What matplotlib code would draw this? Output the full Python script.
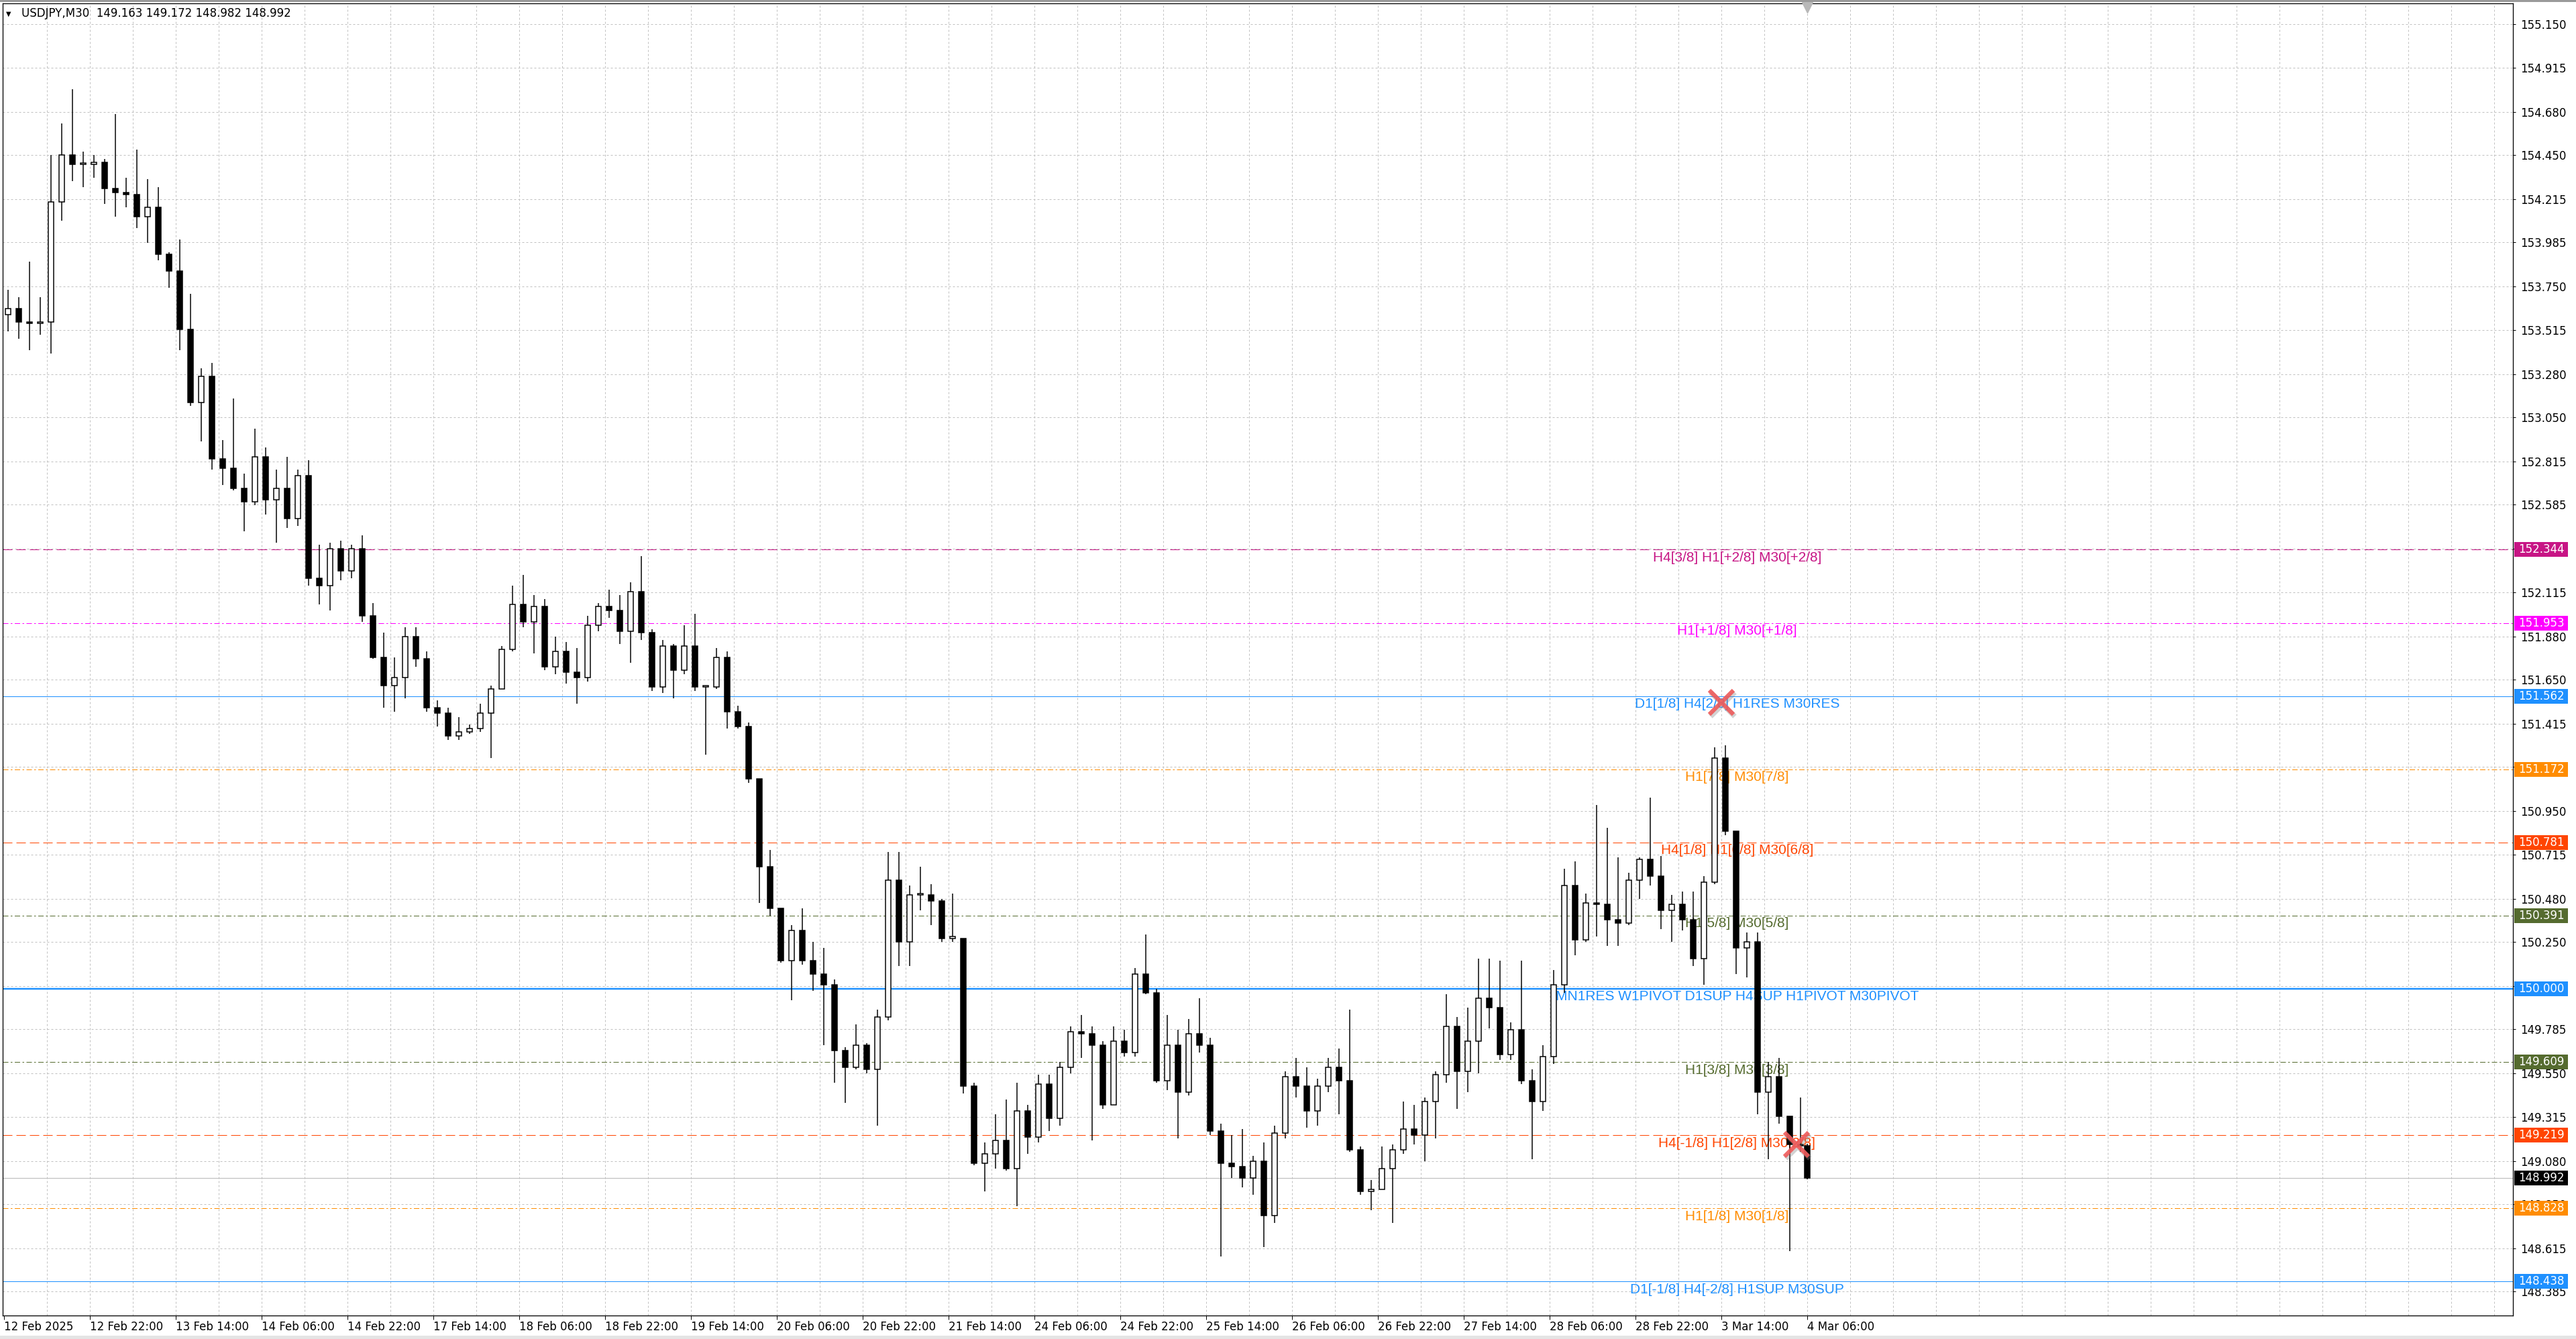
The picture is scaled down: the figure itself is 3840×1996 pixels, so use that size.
import matplotlib
matplotlib.use("Agg")
import matplotlib.pyplot as plt
import matplotlib.transforms as mtransforms
from matplotlib.patches import Rectangle

plt.rcParams["lines.scale_dashes"] = False
plt.rcParams["font.family"] = ["DejaVu Sans"]

W_PX, H_PX, DPI = 3840, 1996, 100
PT = 72.0 / DPI  # one screen pixel in points

SYMBOL = "USDJPY,M30"
FIRST_OPEN = 153.60
LAST_BAR = 672
BARS_PER_CANDLE = 4  # candles below are 2-hour groups of M30 bars

# ==========================
# price data (one row = 10 groups)
# ==========================
closes = [
    153.63, 153.56, 153.55, 153.56, 154.20, 154.45, 154.40, 154.40, 154.41, 154.27,
    154.25, 154.24, 154.12, 154.17, 153.92, 153.83, 153.52, 153.13, 153.27, 152.83,
    152.78, 152.67, 152.60, 152.84, 152.61, 152.67, 152.51, 152.74, 152.19, 152.15,
    152.35, 152.23, 152.35, 151.99, 151.77, 151.62, 151.66, 151.88, 151.76, 151.50,
    151.47, 151.35, 151.37, 151.39, 151.47, 151.60, 151.81, 152.05, 151.96, 152.04,
    151.72, 151.80, 151.69, 151.66, 151.94, 152.04, 152.02, 151.91, 152.12, 151.90,
    151.61, 151.83, 151.70, 151.83, 151.61, 151.61, 151.77, 151.48, 151.40, 151.12,
    150.65, 150.43, 150.15, 150.31, 150.15, 150.08, 150.02, 149.67, 149.58, 149.70,
    149.57, 149.85, 150.58, 150.25, 150.50, 150.50, 150.47, 150.27, 150.27, 149.48,
    149.07, 149.12, 149.19, 149.04, 149.35, 149.21, 149.49, 149.31, 149.58, 149.77,
    149.76, 149.70, 149.38, 149.72, 149.66, 150.08, 149.98, 149.51, 149.70, 149.45,
    149.76, 149.70, 149.24, 149.07, 149.05, 148.99, 149.08, 148.79, 149.23, 149.53,
    149.48, 149.35, 149.48, 149.58, 149.51, 149.14, 148.92, 148.93, 149.04, 149.14,
    149.25, 149.22, 149.40, 149.54, 149.80, 149.56, 149.72, 149.95, 149.90, 149.65,
    149.78, 149.51, 149.40, 149.64, 150.02, 150.55, 150.26, 150.46, 150.45, 150.37,
    150.35, 150.58, 150.69, 150.60, 150.42, 150.45, 150.37, 150.16, 150.57, 151.23,
    150.84, 150.22, 150.25, 149.45, 149.53, 149.32, 149.17, 149.163, 148.992,
]
highs = [
    153.73, 153.69, 153.88, 153.69, 154.45, 154.62, 154.80, 154.47, 154.45, 154.43,
    154.67, 154.33, 154.48, 154.32, 154.28, 153.93, 154.00, 153.71, 153.31, 153.34,
    152.93, 153.15, 152.75, 152.99, 152.89, 152.77, 152.84, 152.77, 152.82, 152.37,
    152.38, 152.39, 152.37, 152.42, 152.06, 151.90, 151.77, 151.93, 151.93, 151.80,
    151.54, 151.50, 151.45, 151.41, 151.52, 151.62, 151.83, 152.15, 152.21, 152.10,
    152.08, 151.88, 151.85, 151.82, 151.99, 152.06, 152.13, 152.10, 152.17, 152.31,
    151.92, 151.86, 151.84, 151.94, 152.00, 151.62, 151.82, 151.80, 151.51, 151.42,
    151.12, 150.74, 150.43, 150.34, 150.43, 150.25, 150.22, 150.05, 149.69, 149.81,
    149.71, 149.89, 150.73, 150.73, 150.55, 150.65, 150.56, 150.48, 150.51, 150.27,
    149.50, 149.18, 149.33, 149.41, 149.50, 149.38, 149.54, 149.54, 149.61, 149.80,
    149.86, 149.80, 149.72, 149.80, 149.78, 150.11, 150.29, 150.00, 149.86, 149.78,
    149.84, 149.95, 149.74, 149.28, 149.22, 149.25, 149.11, 149.18, 149.27, 149.56,
    149.63, 149.58, 149.52, 149.63, 149.68, 149.89, 149.16, 148.98, 149.16, 149.17,
    149.40, 149.38, 149.42, 149.56, 149.97, 149.85, 149.90, 150.16, 150.16, 150.15,
    149.82, 150.15, 149.57, 149.70, 150.10, 150.64, 150.68, 150.51, 150.98, 150.86,
    150.70, 150.62, 150.70, 151.02, 150.71, 150.50, 150.52, 150.52, 150.60, 151.29,
    151.30, 150.84, 150.30, 150.30, 149.61, 149.63, 149.32, 149.42, 149.172,
]
lows = [
    153.51, 153.47, 153.41, 153.49, 153.39, 154.10, 154.31, 154.28, 154.33, 154.19,
    154.12, 154.17, 154.06, 153.98, 153.89, 153.74, 153.41, 153.11, 152.92, 152.77,
    152.69, 152.66, 152.44, 152.58, 152.53, 152.38, 152.46, 152.47, 152.15, 152.05,
    152.02, 152.18, 152.19, 151.96, 151.76, 151.50, 151.48, 151.55, 151.72, 151.48,
    151.40, 151.33, 151.33, 151.36, 151.37, 151.23, 151.60, 151.80, 151.93, 151.79,
    151.70, 151.68, 151.63, 151.52, 151.64, 151.91, 151.98, 151.84, 151.74, 151.86,
    151.59, 151.58, 151.55, 151.68, 151.59, 151.25, 151.60, 151.39, 151.39, 151.10,
    150.46, 150.39, 150.14, 149.94, 150.13, 149.99, 149.70, 149.50, 149.39, 149.57,
    149.55, 149.27, 149.83, 150.12, 150.12, 150.42, 150.34, 150.25, 150.25, 149.44,
    149.06, 148.92, 149.04, 149.03, 148.84, 149.12, 149.18, 149.24, 149.27, 149.55,
    149.63, 149.19, 149.36, 149.38, 149.64, 149.64, 149.97, 149.50, 149.46, 149.20,
    149.43, 149.66, 149.22, 148.57, 148.99, 148.94, 148.90, 148.62, 148.75, 149.20,
    149.42, 149.26, 149.27, 149.45, 149.33, 149.13, 148.90, 148.82, 148.93, 148.75,
    149.12, 149.17, 149.08, 149.20, 149.50, 149.36, 149.45, 149.55, 149.79, 149.62,
    149.62, 149.49, 149.09, 149.35, 149.60, 149.98, 150.18, 150.25, 150.28, 150.23,
    150.23, 150.34, 150.48, 150.55, 150.32, 150.25, 150.31, 150.12, 150.02, 150.56,
    150.82, 150.08, 150.06, 149.33, 149.09, 149.28, 148.60, 149.13, 148.982,
]

price_ticks = [
    "155.150", "154.915", "154.680", "154.450", "154.215", "153.985", "153.750",
    "153.515", "153.280", "153.050", "152.815", "152.585", "152.350", "152.115",
    "151.880", "151.650", "151.415", "151.185", "150.950", "150.715", "150.480",
    "150.250", "150.015", "149.785", "149.550", "149.315", "149.080", "148.850",
    "148.615", "148.385",
]
date_labels = [
    "12 Feb 2025", "12 Feb 22:00", "13 Feb 14:00", "14 Feb 06:00", "14 Feb 22:00",
    "17 Feb 14:00", "18 Feb 06:00", "18 Feb 22:00", "19 Feb 14:00", "20 Feb 06:00",
    "20 Feb 22:00", "21 Feb 14:00", "24 Feb 06:00", "24 Feb 22:00", "25 Feb 14:00",
    "26 Feb 06:00", "26 Feb 22:00", "27 Feb 14:00", "28 Feb 06:00", "28 Feb 22:00",
    "3 Mar 14:00", "4 Mar 06:00",
]

# support / resistance levels
levels = [152.344, 151.953, 151.562, 151.172, 150.781, 150.391,
          150.000, 149.609, 149.219, 148.828, 148.438]
level_names = [
    "H4[3/8] H1[+2/8] M30[+2/8]",
    "H1[+1/8] M30[+1/8]",
    "D1[1/8] H4[2/8] H1RES M30RES",
    "H1[7/8] M30[7/8]",
    "H4[1/8] H1[6/8] M30[6/8]",
    "H1[5/8] M30[5/8]",
    "MN1RES W1PIVOT D1SUP H4SUP H1PIVOT M30PIVOT",
    "H1[3/8] M30[3/8]",
    "H4[-1/8] H1[2/8] M30[2/8]",
    "H1[1/8] M30[1/8]",
    "D1[-1/8] H4[-2/8] H1SUP M30SUP",
]
level_colors = ["#C71585", "#FF00FF", "#1E90FF", "#FF8C00", "#FF4500", "#556B2F",
                "#1E90FF", "#556B2F", "#FF4500", "#FF8C00", "#1E90FF"]
level_styles = ["dash", "dashdot", "solid", "dashdot", "dash", "dashdot",
                "solid", "dashdot", "dash", "dashdot", "solid"]
level_widths = [1, 1, 1, 1, 1, 1, 2.5, 1, 1, 1, 1]
current_price = 148.992

# the two red cross marks on the chart
mark_bars = [640, 668]
mark_prices = [151.530, 149.170]

# ==========================
# layout (screen pixels)
# ==========================
AX_L, AX_R, AX_T, AX_B = 3.5, 3746, 4.5, 1961
BAR_PX = 4
Y_TOP, Y_BOTTOM = 155.2613, 148.2563
LABEL_BAR = 646

DASHES = {
    "solid": "-",
    "dash": (0, (14 * PT, 6 * PT)),
    "dashdot": (0, (8 * PT, 3.5 * PT, 2.5 * PT, 3.5 * PT)),
}
GRID = (0, (3 * PT, 3 * PT))

fig = plt.figure(figsize=(W_PX / DPI, H_PX / DPI), dpi=DPI)
fig.patch.set_facecolor("white")
ax_w, ax_h = AX_R - AX_L, AX_B - AX_T
ax = fig.add_axes([AX_L / W_PX, 1 - AX_B / H_PX, ax_w / W_PX, ax_h / H_PX])
ax.set_facecolor("white")
ax.set_xlim(-0.5, -0.5 + ax_w / BAR_PX)
ax.set_ylim(Y_BOTTOM, Y_TOP)
px_y = (Y_TOP - Y_BOTTOM) / ax_h

# grid
tick_vals = [float(t) for t in price_ticks]
for t in tick_vals:
    ax.axhline(t, color="#C0C0C0", lw=PT, ls=GRID, zorder=0)
for b in range(16, int(ax.get_xlim()[1]) + 1, 16):
    ax.axvline(b, color="#C0C0C0", lw=PT, ls=GRID, zorder=0)

# levels + labels
for lvl, name, col, sty, lw in zip(levels, level_names, level_colors, level_styles, level_widths):
    ax.axhline(lvl, color=col, lw=lw * PT, ls=DASHES[sty], zorder=1)
    ax.annotate(name, (LABEL_BAR, lvl), xytext=(0, -12 * PT), textcoords="offset points",
                ha="center", va="center", fontsize=15, family="Liberation Sans",
                color=col, zorder=2)
ax.axhline(current_price, color="#C0C0C0", lw=1.2 * PT, zorder=1)

# candles
opens = [FIRST_OPEN] + closes[:-1]
centers = [(BARS_PER_CANDLE * g + min(BARS_PER_CANDLE * g + BARS_PER_CANDLE - 1, LAST_BAR)) / 2
           for g in range(len(closes))]
ax.vlines(centers, [min(l, o, c) for l, o, c in zip(lows, opens, closes)],
          [max(h, o, c) for h, o, c in zip(highs, opens, closes)],
          colors="black", lw=1.5 * PT, zorder=3)
bottoms = [min(o, c) for o, c in zip(opens, closes)]
heights = [max(abs(c - o), 0.008) for o, c in zip(opens, closes)]
faces = ["white" if c >= o else "black" for o, c in zip(opens, closes)]
ax.bar(centers, heights, width=2.0, bottom=bottoms, color=faces,
       edgecolor="black", linewidth=1.5 * PT, zorder=4)

# red cross marks with a soft shadow
shadow = mtransforms.offset_copy(ax.transData, fig=fig, x=2 * PT, y=-3 * PT, units="points")
ax.plot(mark_bars, mark_prices, ls="none", marker="x", ms=26, mew=5.5, color="#808080",
        alpha=0.35, transform=shadow, zorder=5)
ax.plot(mark_bars, mark_prices, ls="none", marker="x", ms=26, mew=4.5, color="#EE5A5A",
        alpha=0.9, zorder=6)

# chart-shift marker at the top
top_tr = mtransforms.blended_transform_factory(ax.transData, ax.transAxes)
ax.plot([LAST_BAR], [1 - 6 / ax_h], marker="v", ms=11, color="#B8B8B8", ls="none",
        transform=top_tr, clip_on=False, zorder=6)

# axes
ax.yaxis.tick_right()
ax.set_yticks(tick_vals, price_ticks)
ax.tick_params(axis="y", direction="out", length=4 * PT, width=PT, pad=7 * PT,
               labelsize=12, colors="black")
ax.set_xticks(list(range(0, LAST_BAR + 1, 32)), date_labels)
for lbl in ax.get_xticklabels():
    lbl.set_horizontalalignment("left")
ax.tick_params(axis="x", direction="out", length=6 * PT, width=PT, pad=2 * PT,
               labelsize=12, colors="black")
for sp in ax.spines.values():
    sp.set_color("black")
    sp.set_linewidth(1.3 * PT)

# price tags on the right scale
tag_tr = mtransforms.blended_transform_factory(ax.transAxes, ax.transData)
tag_x0 = (3748 - AX_L) / ax_w
tag_w = 80 / ax_w
tag_h = 22 * px_y
for val, col in zip(levels + [current_price], level_colors + ["black"]):
    ax.add_patch(Rectangle((tag_x0, val - tag_h / 2), tag_w, tag_h, transform=tag_tr,
                           facecolor=col, edgecolor="none", clip_on=False, zorder=10))
    ax.text(tag_x0 + tag_w / 2, val, f"{val:.3f}", transform=tag_tr, ha="center",
            va="center", fontsize=12, color="white", clip_on=False, zorder=11)

# title, window frame
fig.text(12.5 / W_PX, 1 - 20.5 / H_PX, "\u25bc", fontsize=7, ha="center", va="center")
fig.text(32 / W_PX, 1 - 20 / H_PX,
         f"{SYMBOL}  {opens[-1]:.3f} {highs[-1]:.3f} {lows[-1]:.3f} {closes[-1]:.3f}",
         fontsize=12, ha="left", va="center")
fig.patches.append(Rectangle((0, 1 - 2.5 / H_PX), 1, 2.5 / H_PX, transform=fig.transFigure,
                             facecolor="#9A9A9A", edgecolor="none", zorder=20))
fig.patches.append(Rectangle((0, 0), 1, 5 / H_PX, transform=fig.transFigure,
                             facecolor="#E4E4E4", edgecolor="none", zorder=20))

fig.savefig("out.png", dpi=DPI)
